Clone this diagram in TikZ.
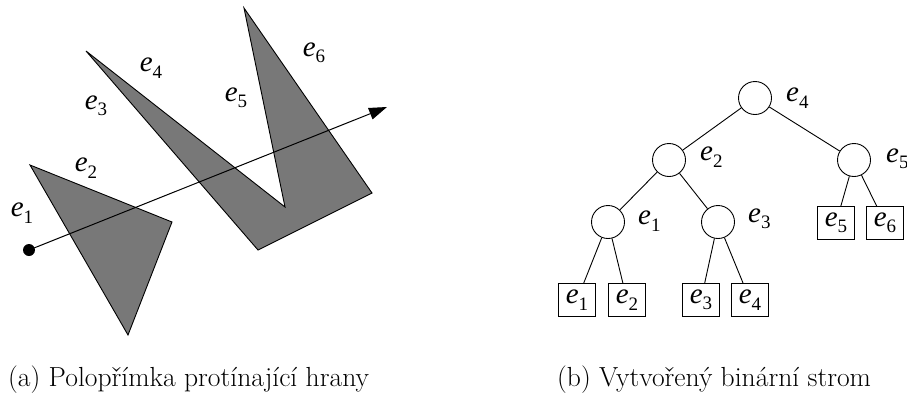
\documentclass[tikz,border=0pt]{standalone}
\usepackage{fontspec}
\newfontfamily\tms[ItalicFont={Liberation Serif Italic}]{Liberation Serif}
\usetikzlibrary{arrows.meta}
\definecolor{polyfill}{RGB}{120,120,120}
% edge name e_i set in a Times-like italic
\newcommand\edgename[1]{{\tms\fontsize{29}{29}\selectfont\itshape e\/\raisebox{-0.22em}{\fontsize{19}{19}\selectfont\upshape #1}}}
\tikzset{
  poly/.style={draw=black, line width=0.9pt, fill=polyfill, line join=miter},
  lbl/.style={inner sep=0pt},
  inner/.style={circle, draw, line width=0.9pt, minimum size=33pt, inner sep=0pt},
  leaf/.style={draw, line width=0.9pt, minimum width=37pt, minimum height=33pt, inner sep=0pt},
  branch/.style={line width=0.9pt},
  caption/.style={anchor=base west, inner sep=0pt, font=\fontsize{27.6}{32}\selectfont}
}
\begin{document}
\begin{tikzpicture}[x=1pt, y=-1pt]
  \useasboundingbox (0,0) rectangle (907,405);

  % (a) polygons crossed by a ray
  \draw[poly] (30,165) -- (172,222) -- (128,335) -- cycle;
  \draw[poly] (86,51) -- (285,207) -- (244,8) -- (372,193) -- (258,250) -- cycle;

  \node[lbl] (l1) at (22,213) {\edgename{1}};
  \node[lbl] (l2) at (86,168) {\edgename{2}};
  \node[lbl] (l3) at (96,106) {\edgename{3}};
  \node[lbl] (l4) at (151,68) {\edgename{4}};
  \node[lbl] (l5) at (236,98) {\edgename{5}};
  \node[lbl] (l6) at (314,53) {\edgename{6}};

  \coordinate (start) at (29,250);
  \coordinate (tip) at (387,107);
  \draw[line width=1pt, -{Triangle[length=18pt, width=12pt]}] (start) -- (tip);
  \fill (start) circle (6pt);

  % (b) resulting binary tree
  \node[inner] (n4) at (755,98) {};
  \node[inner] (n2) at (669,160) {};
  \node[inner] (n5) at (854,160) {};
  \node[inner] (n1) at (608,222) {};
  \node[inner] (n3) at (718,222) {};

  \node[lbl, anchor=west] (t4) at (n4.east) {\hspace{14pt}\edgename{4}};
  \node[lbl, anchor=west] (t2) at ([yshift=3pt]n2.east) {\hspace{14pt}\edgename{2}};
  \node[lbl, anchor=west] (t5) at ([yshift=1pt]n5.east) {\hspace{15pt}\edgename{5}};
  \node[lbl, anchor=west] (t1) at ([yshift=1pt]n1.east) {\hspace{13pt}\edgename{1}};
  \node[lbl, anchor=west] (t3) at ([yshift=3pt]n3.east) {\hspace{13pt}\edgename{3}};

  \node[leaf] (b1) at (577,300) {\edgename{1}};
  \node[leaf] (b2) at (627,300) {\edgename{2}};
  \node[leaf] (b3) at (701,300) {\edgename{3}};
  \node[leaf] (b4) at (750,300) {\edgename{4}};
  \node[leaf] (b5) at (836,223) {\edgename{5}};
  \node[leaf] (b6) at (885,223) {\edgename{6}};

  \draw[branch] (n4) -- (n2);
  \draw[branch] (n4) -- (n5);
  \draw[branch] (n2) -- (n1);
  \draw[branch] (n2) -- (n3);
  \draw[branch] (n1) -- (b1);
  \draw[branch] (n1) -- (b2);
  \draw[branch] (n3) -- (b3);
  \draw[branch] (n3) -- (b4);
  \draw[branch] (n5) -- (b5);
  \draw[branch] (n5) -- (b6);

  % captions
  \node[caption] (capa) at (8,386) {(a) Polopřímka protínající hrany};
  \node[caption] (capb) at (557,386) {(b) Vytvořený binární strom};
\end{tikzpicture}
\end{document}
